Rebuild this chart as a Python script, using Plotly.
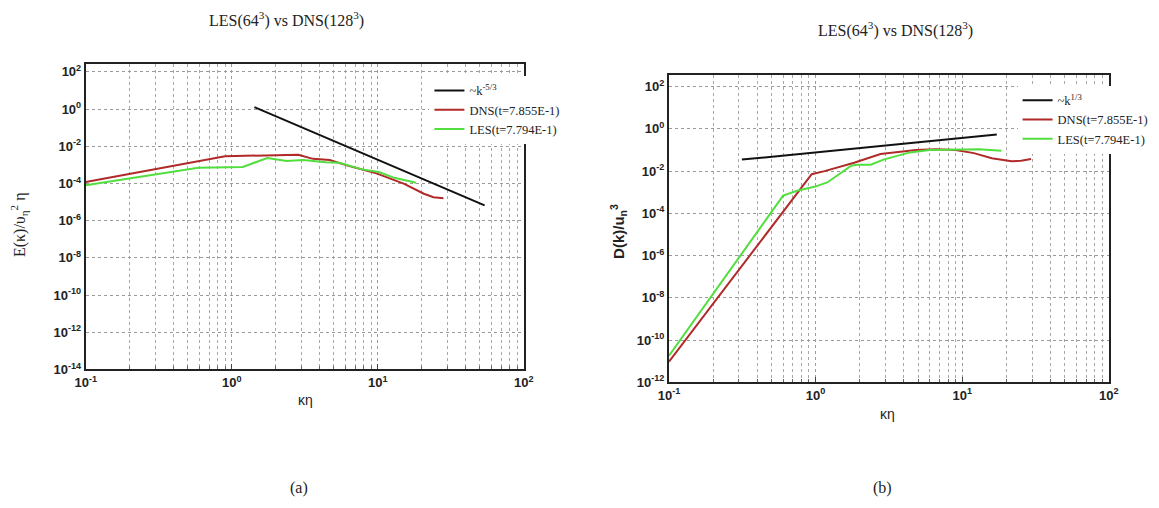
import plotly.graph_objects as go

# ---------------- data: panel (a) energy spectrum ----------------
dns_a_k = [0.1, 0.90, 2.86, 3.6, 4.69, 6.4, 9.5, 15.2, 20.7, 24.1, 28.2]
dns_a_E = [1.2e-4, 2.9e-3, 3.5e-3, 2.1e-3, 1.8e-3, 8.5e-4, 3.8e-4, 9.5e-5, 2.8e-5, 1.8e-5, 1.6e-5]
les_a_k = [0.1, 0.59, 1.19, 1.75, 2.38, 3.09, 4.41, 5.47, 7.8, 10.2, 13.0, 18.3]
les_a_E = [8.1e-5, 6.9e-4, 7.7e-4, 2.3e-3, 1.6e-3, 1.8e-3, 1.4e-3, 1.3e-3, 5.7e-4, 4.1e-4, 2.0e-4, 1.1e-4]
ref_a_k = [1.43, 54.0]
ref_a_E = [1.26, 6.6e-6]

# ---------------- data: panel (b) dissipation spectrum ----------------
dns_b_k = [0.1, 0.94, 1.15, 1.83, 2.77, 3.55, 4.84, 6.6, 9.0, 12.0, 15.9, 21.7, 25.2, 29.5]
dns_b_D = [9.5e-12, 7.1e-3, 1.0e-2, 2.5e-2, 0.064, 0.077, 0.10, 0.109, 0.10, 0.071, 0.041, 0.029, 0.031, 0.037]
les_b_k = [0.1, 0.60, 0.757, 0.98, 1.2, 1.75, 1.91, 2.38, 2.9, 4.4, 6.0, 9.0, 13.0, 18.5]
les_b_D = [1.8e-11, 6.9e-4, 1.2e-3, 1.8e-3, 2.9e-3, 0.018, 0.020, 0.020, 0.035, 0.077, 0.10, 0.109, 0.109, 0.091]
ref_b_k = [0.314, 17.2]
ref_b_D = [0.035, 0.54]

legend_names_a = ["~k<sup>-5/3</sup>", "DNS(t=7.855E-1)", "LES(t=7.794E-1)"]
legend_names_b = ["~k<sup>1/3</sup>", "DNS(t=7.855E-1)", "LES(t=7.794E-1)"]
title_text = "LES(64<sup>3</sup>) vs DNS(128<sup>3</sup>)"

x_exps = [-1, 0, 1, 2]
ya_exps = [-14, -12, -10, -8, -6, -4, -2, 0, 2]
yb_exps = [-12, -10, -8, -6, -4, -2, 0, 2]

BLACK = "#111111"
RED = "#b02a2a"
GREEN = "#52de3e"

W, H = 1159, 508

fig = go.Figure()

def add(x, y, name, color, xa, ya, leg):
    fig.add_trace(go.Scatter(x=x, y=y, mode="lines", name=name,
                             line=dict(color=color, width=2),
                             xaxis=xa, yaxis=ya, legend=leg))

add(ref_a_k, ref_a_E, legend_names_a[0], BLACK, "x", "y", "legend")
add(dns_a_k, dns_a_E, legend_names_a[1], RED, "x", "y", "legend")
add(les_a_k, les_a_E, legend_names_a[2], GREEN, "x", "y", "legend")
add(ref_b_k, ref_b_D, legend_names_b[0], BLACK, "x2", "y2", "legend2")
add(dns_b_k, dns_b_D, legend_names_b[1], RED, "x2", "y2", "legend2")
add(les_b_k, les_b_D, legend_names_b[2], GREEN, "x2", "y2", "legend2")

def pow_labels(exps):
    return [10.0 ** e for e in exps], [f"10<sup>{e}</sup>" for e in exps]

minor_vals = [m * 10.0 ** e for e in (-1, 0, 1) for m in range(2, 10)]
tickfont = dict(family="Liberation Sans", size=13, color="#222", weight="bold")
grid = dict(showgrid=True, gridcolor="#9a9a9a", gridwidth=1, griddash="dot")

def xax(domain, anchor):
    tv, tt = pow_labels(x_exps)
    return dict(type="log", domain=domain, anchor=anchor, range=[-1, 2],
                tickmode="array", tickvals=tv, ticktext=tt, tickfont=tickfont,
                showline=True, linecolor="#222", linewidth=2, mirror=True,
                ticks="inside", ticklen=5, tickcolor="#444",
                minor=dict(tickvals=minor_vals, showgrid=True, gridcolor="#a8a8a8",
                           griddash="dot", ticks="inside", ticklen=3, tickcolor="#666"),
                zeroline=False, **grid)

def yax(domain, anchor, rng, exps):
    tv, tt = pow_labels(exps)
    return dict(type="log", domain=domain, anchor=anchor, range=rng,
                tickmode="array", tickvals=tv, ticktext=tt, tickfont=tickfont,
                showline=True, linecolor="#222", linewidth=2, mirror=True,
                ticks="", zeroline=False, **grid)

legfont = dict(family="Liberation Serif", size=12.5, color="#222")
fig.update_layout(
    width=W, height=H,
    margin=dict(l=0, r=0, t=0, b=0),
    paper_bgcolor="white", plot_bgcolor="white",
    xaxis=xax([68 / W, 514 / W], "y"),
    yaxis=yax([1 - 367 / H, 1 - 56 / H], "x", [-14, 2.42], ya_exps),
    xaxis2=xax([662 / W, 1110 / W], "y2"),
    yaxis2=yax([1 - 380 / H, 1 - 67 / H], "x2", [-12, 2.56], yb_exps),
    legend=dict(x=418 / W, y=1 - 68 / H, xanchor="left", yanchor="top",
                bgcolor="white", borderwidth=0, font=legfont,
                itemwidth=30, tracegroupgap=0),
    legend2=dict(x=1017 / W, y=1 - 78 / H, xanchor="left", yanchor="top",
                 bgcolor="white", borderwidth=0, font=legfont,
                 itemwidth=30, tracegroupgap=0),
    showlegend=True,
)

serif = dict(family="Liberation Serif", size=16, color="#222")
ann = [
    dict(x=272, y=11, text=title_text, font=serif),
    dict(x=893, y=21, text=title_text, font=serif),
    dict(x=0, y=220, text="E(κ)/υ<sub>η</sub><sup>2</sup> η", textangle=-90,
         font=dict(family="Liberation Serif", size=16, color="#222")),
    dict(x=611, y=226, text="<b>D(k)/u<sub>n</sub><sup>3</sup></b>", textangle=-90,
         font=dict(family="Liberation Sans", size=15, color="#222")),
    dict(x=292, y=398, text="κη", font=dict(family="Liberation Sans", size=14, color="#222")),
    dict(x=885, y=412, text="κη", font=dict(family="Liberation Sans", size=14, color="#222")),
    dict(x=285, y=488, text="(a)", font=serif),
    dict(x=879, y=488, text="(b)", font=serif),
]
for a in ann:
    fig.add_annotation(x=a["x"] / W, y=1 - a["y"] / H, xref="paper", yref="paper",
                       text=a["text"], showarrow=False, font=a["font"],
                       textangle=a.get("textangle", 0),
                       xanchor="center", yanchor="middle")

fig.write_html("out.html")
